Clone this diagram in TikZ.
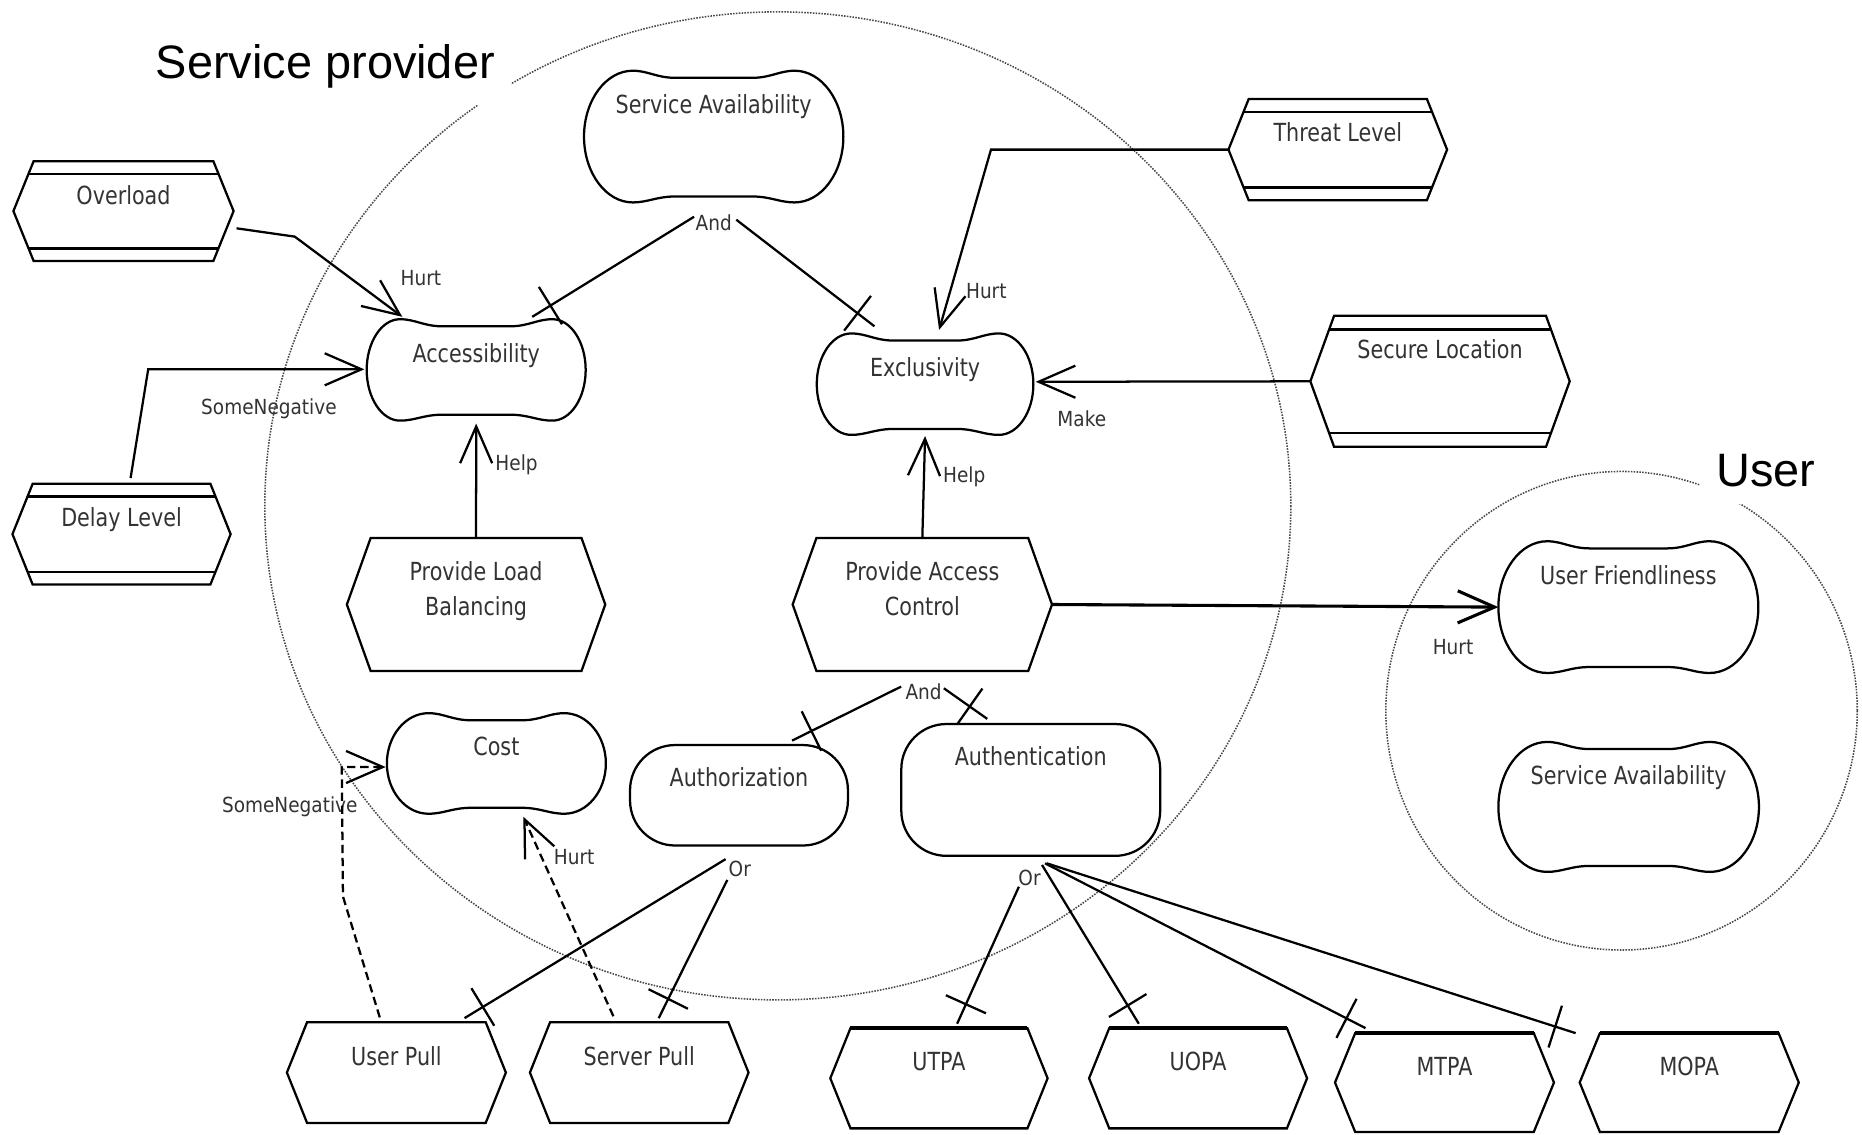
\documentclass[tikz,border=0pt]{standalone}
\usepackage{fontspec}
\usetikzlibrary{arrows.meta,calc,decorations.markings}
\newfontfamily\goalfont[FakeStretch=0.83]{DejaVu Sans}
\newfontfamily\linkfont[FakeStretch=0.89]{DejaVu Sans}
\newfontfamily\actorfont{Liberation Sans}

\tikzset{
  outline/.style={draw=black, line width=1.9pt},
  box/.style 2 args={rectangle, draw=none, inner sep=0pt, minimum width=#1pt, minimum height=#2pt},
  ntext/.style={anchor=north, inner sep=0pt, text=black!80, align=center,
    font=\goalfont\fontsize{21}{29}\selectfont},
  ltext/.style={anchor=base, inner sep=0pt, text=black!80,
    font=\linkfont\fontsize{17.5}{20}\selectfont},
  actor/.style={anchor=base, fill=white, inner sep=14pt,
    font=\actorfont\fontsize{39.5}{47}\selectfont},
  boundary/.style={draw=black!72, line width=1.3pt, dash pattern=on 1.3pt off 1.1pt},
  link/.style={line width=1.9pt},
  contrib/.style={link, -{Straight Barb[length=31pt, width=27pt]}},
  weaklink/.style={contrib, dash pattern=on 7pt off 4pt},
  decomp/.style={link, postaction={decorate, decoration={markings,
    mark=at position -18pt with {\draw[line width=1.9pt] (0pt,-18.5pt) -- (0pt,18.5pt);}}}},
}

% softgoal outline: rounded ends, slightly hollow top and bottom edges
\newcommand\softgoalshape[2]{%
  \draw[outline] let \p1=(#1.north west), \p2=(#1.south east), \p3=(#1.center) in
    ({\x1+#2}, \y1)
      .. controls ({\x1+#2+13}, \y1) and ({\x1+#2+20}, {\y1-6}) .. ({\x1+#2+36}, {\y1-6})
      -- ({\x2-#2-36}, {\y1-6})
      .. controls ({\x2-#2-20}, {\y1-6}) and ({\x2-#2-13}, \y1) .. ({\x2-#2}, \y1)
      .. controls ({\x2-0.45*#2}, \y1) and (\x2, {\y3+0.55*(\y1-\y3)}) .. (\x2, \y3)
      .. controls (\x2, {\y3-0.55*(\y1-\y3)}) and ({\x2-0.45*#2}, \y2) .. ({\x2-#2}, \y2)
      .. controls ({\x2-#2-13}, \y2) and ({\x2-#2-20}, {\y2+5}) .. ({\x2-#2-36}, {\y2+5})
      -- ({\x1+#2+36}, {\y2+5})
      .. controls ({\x1+#2+20}, {\y2+5}) and ({\x1+#2+13}, \y2) .. ({\x1+#2}, \y2)
      .. controls ({\x1+0.45*#2}, \y2) and (\x1, {\y3-0.55*(\y1-\y3)}) .. (\x1, \y3)
      .. controls (\x1, {\y3+0.55*(\y1-\y3)}) and ({\x1+0.45*#2}, \y1) .. cycle;
}
% task outline: hexagon pointed left and right
\newcommand\taskshape[2]{%
  \draw[outline] (#1.west) -- ([xshift=#2pt]#1.north west) -- ([xshift=-#2pt]#1.north east)
    -- (#1.east) -- ([xshift=-#2pt]#1.south east) -- ([xshift=#2pt]#1.south west) -- cycle;
}
% indicator outline: hexagon with an extra bar under the top and above the bottom
\newcommand\indicatorshape[3]{%
  \taskshape{#1}{#2}
  \draw[outline]
    ($(#1.west)!#3!([xshift=#2pt]#1.north west)$) -- ($(#1.east)!#3!([xshift=-#2pt]#1.north east)$)
    ($(#1.west)!#3!([xshift=#2pt]#1.south west)$) -- ($(#1.east)!#3!([xshift=-#2pt]#1.south east)$);
}
\newcommand\heavytop[2]{%
  \draw[outline, line width=3.4pt] ([xshift=#2pt]#1.north west) -- ([xshift=-#2pt]#1.north east);
}

\begin{document}
\begin{tikzpicture}[x=1pt, y=-1pt]
\fill[white] (0,0) rectangle (1568,955);
\useasboundingbox (0,0) rectangle (1568,955);

% actor boundaries
\draw[boundary] (655,426) ellipse [x radius=432, y radius=416];
\draw[boundary] (1365.5,598.5) ellipse [x radius=198.5, y radius=201.5];
\node[actor] (spLabel) at (274,66) {Service provider};
\node[actor] (userLabel) at (1487,410) {User};

% softgoals
\node[box={218}{110.5}] (sa) at (601,115) {};
\node[box={184}{85}] (acc) at (401,311.5) {};
\node[box={182}{85}] (exc) at (779,323.5) {};
\node[box={184}{84.3}] (cost) at (418,642.9) {};
\node[box={218.5}{110.5}] (uf) at (1371.25,511.25) {};
\node[box={219}{109}] (sau) at (1371.5,679.5) {};
\softgoalshape{sa}{41}
\softgoalshape{acc}{28}
\softgoalshape{exc}{29}
\softgoalshape{cost}{35}
\softgoalshape{uf}{41}
\softgoalshape{sau}{41}

% goals
\node[box={183.5}{84.6}, outline, rounded corners=38pt] (aut) at (622.3,669.7) {};
\node[box={218}{111}, outline, rounded corners=38pt] (ath) at (868,665.2) {};

% tasks
\node[box={217.2}{111.5}] (plb) at (400.9,509.05) {};
\node[box={218}{111.5}] (pac) at (776.7,509.05) {};
\node[box={184}{84.5}] (upl) at (333.8,903.2) {};
\node[box={183.7}{84.5}] (spl) at (538.3,903.2) {};
\node[box={182.6}{84}] (utpa) at (790.7,908) {};
\node[box={183.2}{84}] (uopa) at (1008.9,908) {};
\node[box={184}{82.8}] (mtpa) at (1216.4,911.6) {};
\node[box={184.1}{82.8}] (mopa) at (1422.5,911.6) {};
\taskshape{plb}{20}
\taskshape{pac}{20}
\taskshape{upl}{17}
\taskshape{spl}{17}
\taskshape{utpa}{17}
\taskshape{uopa}{17}
\taskshape{mtpa}{17}
\taskshape{mopa}{17}
\heavytop{utpa}{17}
\heavytop{uopa}{17}
\heavytop{mtpa}{17}
\heavytop{mopa}{17}

% indicators
\node[box={185}{83.5}] (ovl) at (104,177.75) {};
\node[box={183.3}{84.4}] (dly) at (102.35,449.8) {};
\node[box={183.7}{84.8}] (thr) at (1126.55,126) {};
\node[box={218}{110}] (sec) at (1212.65,321.1) {};
\indicatorshape{ovl}{17}{0.75}
\indicatorshape{dly}{17}{0.75}
\indicatorshape{thr}{17}{0.75}
\indicatorshape{sec}{20}{0.79}

% element names
\node[ntext] (saT) at ([yshift=-20pt]sa.north) {Service Availability};
\node[ntext] (accT) at ([yshift=-20pt]acc.north) {Accessibility};
\node[ntext] (excT) at ([yshift=-20pt]exc.north) {Exclusivity};
\node[ntext] (costT) at ([yshift=-20pt]cost.north) {Cost};
\node[ntext] (ufT) at ([yshift=-20pt]uf.north) {User Friendliness};
\node[ntext] (sauT) at ([yshift=-20pt]sau.north) {Service Availability};
\node[ntext] (autT) at ([yshift=-20pt]aut.north) {Authorization};
\node[ntext] (athT) at ([yshift=-20pt]ath.north) {Authentication};
\node[ntext] (plbT) at ([yshift=-20pt]plb.north) {Provide Load\\Balancing};
\node[ntext] (pacT) at ([yshift=-20pt]pac.north) {Provide Access\\Control};
\node[ntext] (uplT) at ([yshift=-20pt]upl.north) {User Pull};
\node[ntext] (splT) at ([yshift=-20pt]spl.north) {Server Pull};
\node[ntext] (utpaT) at ([yshift=-20pt]utpa.north) {UTPA};
\node[ntext] (uopaT) at ([yshift=-20pt]uopa.north) {UOPA};
\node[ntext] (mtpaT) at ([yshift=-20pt]mtpa.north) {MTPA};
\node[ntext] (mopaT) at ([yshift=-20pt]mopa.north) {MOPA};
\node[ntext] (ovlT) at ([yshift=-20pt]ovl.north) {Overload};
\node[ntext] (dlyT) at ([yshift=-20pt]dly.north) {Delay Level};
\node[ntext] (thrT) at ([yshift=-20pt]thr.north) {Threat Level};
\node[ntext] (secT) at ([yshift=-20pt]sec.north) {Secure Location};

% link labels
\node[ltext] (hurtA) at (354.5,240) {Hurt};
\node[ltext] (negA) at (226.5,349) {SomeNegative};
\node[ltext] (helpA) at (435,396) {Help};
\node[ltext] (hurtB) at (830.6,251) {Hurt};
\node[ltext] (makeL) at (911,359) {Make};
\node[ltext] (helpB) at (812,406) {Help};
\node[ltext] (hurtC) at (1223.6,551) {Hurt};
\node[ltext] (negB) at (244,684) {SomeNegative};
\node[ltext] (hurtD) at (483.5,728) {Hurt};
\node[ltext] (andSA) at (601,194) {And};
\node[ltext] (andPAC) at (777.8,589) {And};
\node[ltext] (orA) at (623,738) {Or};
\node[ltext] (orB) at (867,746) {Or};

% contributions
\draw[contrib] ($(ovl.east)+(2.5,14.5)$) -- ($(ovl.east)+(51.5,21.5)$) -- ($(acc.north west)+(30,-2)$);
\draw[contrib] ($(dly.north)+(7.6,-4.8)$) -- ($(acc.west)+(-184,-0.5)$) -- ($(acc.west)+(-2,-0.5)$);
\draw[contrib] (plb.north) -- ($(acc.south)+(0,2.5)$);
\draw[contrib] (thr.west) -- ++(-200,0) -- ($(exc.north west)+(103,-3)$);
\draw[contrib] (sec.west) -- ($(exc.east)+(2,-2)$);
\draw[contrib] (pac.north) -- ($(exc.south)+(0,1)$);
\draw[contrib, line width=2.6pt] (pac.east) -- (uf.west);
\draw[weaklink] ($(upl.north)+(-14,-4)$) -- ($(cost.west)+(-37,112)$)
  -- ($(cost.west)+(-38,3)$) -- ($(cost.west)+(-1,3)$);
\draw[weaklink] ($(spl.north)+(-21.8,-5)$) -- ($(cost.south)+(22.7,2.5)$);

% decompositions
\draw[decomp] ($(andSA.base)+(-16.5,-11.5)$) -- ($(acc.north east)+(-45,-2)$);
\draw[decomp] ($(andSA.base)+(19,-9)$) -- ($(exc.north west)+(48.6,-6)$);
\draw[decomp] ($(andPAC.base)+(-19,-10.8)$) -- ($(aut.north)+(44.7,-2.8)$);
\draw[decomp] ($(andPAC.base)+(17,-9.4)$) -- ($(ath.north west)+(73.3,-3.4)$);
\draw[decomp] ($(orA.base)+(-12,-14.5)$) -- ($(upl.north east)+(-34.8,-3.4)$);
\draw[decomp] ($(orA.base)+(-10.5,3)$) -- ($(spl.north)+(16.4,-3.4)$);
\draw[decomp] ($(orB.base)+(-9,0.7)$) -- ($(utpa.north)+(15.3,-3.7)$);
\draw[decomp] ($(orB.base)+(10.5,-17.6)$) -- ($(uopa.north)+(-49.9,-3.7)$);
\draw[decomp] ($(orB.base)+(13,-19)$) -- ($(mtpa.north west)+(25.7,-4.2)$);
\draw[decomp] ($(orB.base)+(14.5,-19)$) -- ($(mopa.north west)+(-3.4,0)$);
\end{tikzpicture}
\end{document}
